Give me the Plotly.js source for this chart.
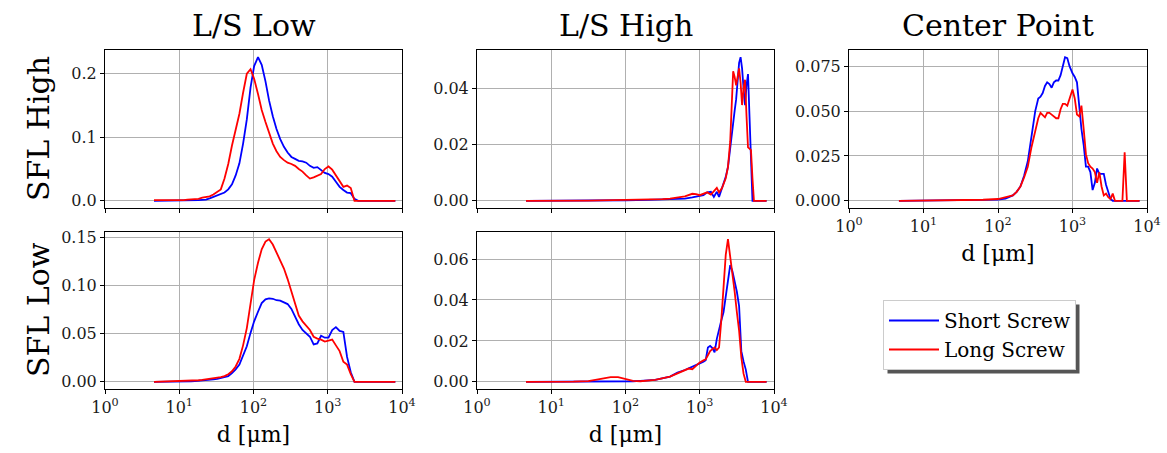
<!DOCTYPE html>
<html>
<head>
<meta charset="utf-8">
<script src="https://cdn.plot.ly/plotly-3.0.1.min.js"></script>
<style>html,body{margin:0;padding:0;background:#fff;}#chart{width:1167px;height:453px;}</style>
</head>
<body>
<div id="chart"></div>
<script>
// ---------- DATA (particle size d in µm, distribution density) ----------
const colTitles = ["L/S Low", "L/S High", "Center Point"];
const rowTitles = ["SFL High", "SFL Low"];
const seriesNames = ["Short Screw", "Long Screw"];
const xTickVals = [1, 10, 100, 1000, 10000];
const xTickText = ["10<sup>0</sup>", "10<sup>1</sup>", "10<sup>2</sup>", "10<sup>3</sup>", "10<sup>4</sup>"];

// shared size grid for the L/S Low column
const dLeft = [4.57, 5.13, 5.75, 6.46, 7.24, 8.13, 9.12, 10.2, 11.5, 12.9, 14.5, 16.2, 18.2, 20.4, 22.9, 25.7, 28.8, 32.4, 36.3, 40.7, 45.7, 51.3, 57.5, 64.6, 72.4, 81.3, 91.2, 102, 115, 129, 145, 162, 182, 204, 229, 257, 288, 324, 363, 407, 457, 513, 575, 646, 724, 813, 912, 1023, 1148, 1288, 1445, 1622, 1820, 2042, 2291, 2570, 2884, 3236, 3631, 4074, 4571, 5129, 5754, 6457, 7244, 8128];

// SFL High / L/S Low
const hiLowShort = [0,0,0,0,0,0,0,0,0,0, 0.0003,0.0005,0.001,0.0015,0.002,0.004,0.006,0.008,0.010,0.013, 0.018,0.026,0.040,0.059,0.090,0.128,0.178,0.212,0.226,0.214, 0.188,0.158,0.133,0.113,0.097,0.085,0.076,0.069,0.066,0.063, 0.062,0.060,0.055,0.052,0.053,0.049,0.044,0.042,0.038,0.030, 0.022,0.017,0.013,0.012,0.003, 0,0,0,0,0,0,0,0,0,0,0];
const hiLowLong = [0.001,0.0008,0.001,0.0012,0.001,0.0012,0.001,0.0012,0.001,0.002, 0.002,0.003,0.003,0.005,0.006,0.007,0.010,0.014,0.018,0.035, 0.058,0.087,0.110,0.137,0.170,0.200,0.207,0.192,0.168,0.143, 0.124,0.106,0.090,0.078,0.069,0.064,0.060,0.058,0.055,0.050, 0.046,0.040,0.035,0.037,0.039,0.042,0.050,0.054,0.049,0.040, 0.029,0.022,0.024,0.020,0, 0,0,0,0,0,0,0,0,0,0,0];

// SFL Low / L/S Low
const loLowShort = [0,0,0,0,0.0001,0.0001,0.0002,0.0003,0.0004,0.0005, 0.0006,0.0008,0.001,0.0012,0.0015,0.002,0.0025,0.003,0.0038,0.0048, 0.006,0.0092,0.013,0.018,0.027,0.037,0.051,0.063,0.073,0.082, 0.086,0.087,0.0865,0.085,0.0845,0.083,0.081,0.076,0.068,0.060, 0.054,0.050,0.047,0.039,0.040,0.048,0.046,0.046,0.054,0.057, 0.053,0.052,0.026,0.010,0, 0,0,0,0,0,0,0,0,0,0,0];
const loLowLong = [0,0.0001,0.0001,0.0002,0.0003,0.0004,0.0005,0.0006,0.0008,0.001, 0.0012,0.0014,0.0017,0.002,0.0025,0.003,0.0035,0.004,0.005,0.006, 0.008,0.011,0.016,0.024,0.038,0.056,0.081,0.106,0.124,0.138, 0.146,0.1486,0.143,0.135,0.126,0.118,0.107,0.094,0.080,0.069, 0.063,0.058,0.054,0.047,0.045,0.044,0.042,0.043,0.044,0.038, 0.032,0.021,0.018,0.008,0, 0,0,0,0,0,0,0,0,0,0,0];

// SFL High / L/S High
const dHiHigh = [4.57, 10, 31.6, 100, 200, 316, 398, 501, 631, 794, 891, 1000, 1122, 1259, 1413, 1549, 1698, 1820, 1995, 2239, 2399, 2570, 2692, 2818, 2951, 3090, 3236, 3388, 3548, 3715, 3890, 4074, 4266, 4467, 4677, 4898, 5129, 5370, 5623, 6310, 7079, 7943];
const hiHighShort = [0,0,0.0001,0.0002,0.0003,0.0004,0.0005,0.0006,0.0008,0.0012, 0.0014,0.0016,0.002,0.003,0.0032,0.0014,0.0032,0.0014,0.0044,0.0085, 0.012,0.019,0.025,0.029,0.032,0.036,0.044,0.049,0.051,0.047, 0.040,0.034,0.041,0.045,0.030,0.012,0,0,0,0,0,0];
const hiHighLong = [0,0,0.0001,0.0003,0.0004,0.0006,0.0008,0.0011,0.0016,0.0025, 0.0024,0.002,0.0026,0.003,0.0022,0.0035,0.0046,0.003,0.0045,0.008, 0.012,0.021,0.034,0.046,0.044,0.041,0.044,0.047,0.042,0.034, 0.040,0.043,0.030,0.019,0.0185,0.018,0.008,0,0,0,0,0];

// SFL High / Center Point
const dCenter = [4.68, 10, 31.6, 63.1, 100, 126, 158, 178, 200, 224, 251, 282, 316, 347, 372, 398, 427, 457, 490, 525, 562, 603, 646, 692, 741, 794, 851, 912, 1000, 1072, 1148, 1230, 1318, 1413, 1514, 1622, 1738, 1862, 1995, 2138, 2291, 2455, 2630, 2818, 3020, 3236, 3467, 3715, 4169, 4677, 5012, 5370, 6026, 6918, 7943];
const centerShort = [0,0.0001,0.0002,0.0004,0.0007,0.0012,0.003,0.005,0.008,0.014, 0.022,0.036,0.050,0.057,0.058,0.060,0.064,0.066,0.065,0.063, 0.066,0.067,0.067,0.070,0.075,0.080,0.0795,0.075,0.071,0.069, 0.066,0.052,0.040,0.031,0.019,0.019,0.016,0.006,0.010,0.018, 0.015,0.015,0.015,0.009,0.005,0.001,0,0,0,0, 0,0,0,0,0];
const centerLong = [0,0.0001,0.0003,0.0006,0.001,0.002,0.003,0.005,0.008,0.013, 0.019,0.030,0.039,0.046,0.049,0.048,0.0465,0.049,0.049,0.048, 0.047,0.046,0.046,0.051,0.054,0.054,0.053,0.057,0.062,0.057, 0.048,0.047,0.053,0.040,0.026,0.021,0.019,0.018,0.016,0.010, 0.016,0.008,0.003,0.004,0.002,0.001,0.004,0,0,0, 0.027,0,0,0,0];

// SFL Low / L/S High
const dLoHigh = [4.57, 10, 20.0, 31.6, 39.8, 50.1, 63.1, 79.4, 100, 126, 158, 251, 398, 501, 631, 708, 794, 891, 1000, 1122, 1202, 1288, 1380, 1479, 1585, 1698, 1820, 1950, 2089, 2239, 2399, 2570, 2754, 2951, 3162, 3388, 3631, 3890, 4169, 4467, 5012, 6310, 7943];
const loHighShort = [0,0,0,0.0001,0.0001,0.0001,0.0002,0.0002,0.0002,0.0003, 0.0005,0.001,0.0026,0.0045,0.0058,0.0065,0.0072,0.008,0.009,0.0098, 0.0106,0.0168,0.0176,0.0165,0.0144,0.021,0.026,0.030,0.034,0.041, 0.049,0.057,0.054,0.049,0.044,0.037,0.015,0.010,0.006,0,0,0,0];
const loHighLong = [0,0,0.0001,0.0004,0.001,0.0018,0.0023,0.0023,0.0015,0.0005, 0.0003,0.001,0.0026,0.0042,0.0058,0.0065,0.0062,0.008,0.0095,0.0105, 0.011,0.013,0.015,0.016,0.0168,0.0155,0.0168,0.030,0.048,0.062, 0.0697,0.062,0.052,0.044,0.034,0.025,0.012,0.004,0,0,0,0,0];

// ---------- STYLE / LAYOUT ----------
const FONT = "DejaVu Serif";
const W = 1167, H = 453;
const BLUE = "#0000ff", RED = "#ff0000";
const px = v => v / W, py = v => 1 - v / H;

const panels = [
  {ax: "", d: dLeft, s: hiLowShort, l: hiLowLong, xd: [105, 402], yd: [208, 50], labels: false, dtick: 0.1, fmt: ".1f", legend: true},
  {ax: "2", d: dHiHigh, s: hiHighShort, l: hiHighLong, xd: [477, 774], yd: [208, 50], labels: false, dtick: 0.02, fmt: ".2f"},
  {ax: "3", d: dCenter, s: centerShort, l: centerLong, xd: [849, 1147], yd: [208, 50], labels: true, dtick: 0.025, fmt: ".3f"},
  {ax: "4", d: dLeft, s: loLowShort, l: loLowLong, xd: [105, 402], yd: [389, 232], labels: true, dtick: 0.05, fmt: ".2f"},
  {ax: "5", d: dLoHigh, s: loHighShort, l: loHighLong, xd: [477, 774], yd: [389, 232], labels: true, dtick: 0.02, fmt: ".2f"}
];

const traces = [];
const layout = {
  width: W, height: H,
  margin: {l: 0, r: 0, t: 0, b: 0},
  paper_bgcolor: "#fff", plot_bgcolor: "#fff",
  font: {family: FONT, color: "#000", size: 16},
  showlegend: true,
  legend: {
    x: px(883), y: py(300), xanchor: "left", yanchor: "top",
    bgcolor: "#fff", bordercolor: "#cccccc", borderwidth: 1,
    font: {family: FONT, size: 20, color: "#000"},
    itemwidth: 50, tracegroupgap: 0
  },
  annotations: [],
  shapes: [{
    type: "rect", xref: "paper", yref: "paper",
    x0: px(887), x1: px(1081), y0: py(366), y1: py(305),
    fillcolor: "#555555", line: {width: 0}, layer: "above"
  }]
};

panels.forEach(p => {
  const xa = "x" + p.ax, ya = "y" + p.ax;
  traces.push({x: p.d, y: p.s, xaxis: xa, yaxis: ya, type: "scatter", mode: "lines",
    name: seriesNames[0], legendgroup: "s", showlegend: !!p.legend,
    line: {color: BLUE, width: 1.8}, hoverinfo: "skip"});
  traces.push({x: p.d, y: p.l, xaxis: xa, yaxis: ya, type: "scatter", mode: "lines",
    name: seriesNames[1], legendgroup: "l", showlegend: !!p.legend,
    line: {color: RED, width: 1.8}, hoverinfo: "skip"});
  const ymax = Math.max(...p.s, ...p.l);
  const common = {
    showline: true, mirror: true, linecolor: "#000", linewidth: 1,
    ticks: "outside", ticklen: 4, tickwidth: 1, tickcolor: "#000",
    showgrid: true, gridcolor: "#b0b0b0", gridwidth: 1, zeroline: false,
    tickfont: {family: FONT, size: 16, color: "#1a1a1a"}
  };
  layout["xaxis" + p.ax] = Object.assign({}, common, {
    domain: [px(p.xd[0]), px(p.xd[1])], anchor: ya,
    type: "log", range: [0, 4], tickmode: "array", tickvals: xTickVals, ticktext: xTickText,
    showticklabels: p.labels,
    title: p.labels ? {text: "d [μm]", font: {family: FONT, size: 22, color: "#000"}, standoff: 10} : {text: ""}
  });
  layout["yaxis" + p.ax] = Object.assign({}, common, {
    domain: [py(p.yd[0]), py(p.yd[1])], anchor: xa,
    range: [-0.05 * ymax, 1.05 * ymax], tick0: 0, dtick: p.dtick, tickformat: p.fmt
  });
});

const colCenters = [254, 626, 998];
colTitles.forEach((t, i) => layout.annotations.push({
  text: t, xref: "paper", yref: "paper", x: px(colCenters[i]), y: py(26),
  xanchor: "center", yanchor: "middle", showarrow: false,
  font: {family: FONT, size: 30, color: "#000"}
}));
const rowCenters = [129, 310];
rowTitles.forEach((t, i) => layout.annotations.push({
  text: t, xref: "paper", yref: "paper", x: px(38), y: py(rowCenters[i]),
  xanchor: "center", yanchor: "middle", showarrow: false, textangle: -90,
  font: {family: FONT, size: 30, color: "#000"}
}));

const gd = document.getElementById("chart");
Plotly.newPlot(gd, traces, layout, {staticPlot: true, displayModeBar: false}).then(() => {
  // place the drop shadow 4px down/right of the legend box as drawn
  const bg = gd.querySelector(".legend .bg");
  if (!bg) return;
  const r = bg.getBoundingClientRect(), c = gd.getBoundingClientRect();
  const x0 = r.left - c.left + 4, x1 = r.right - c.left + 4;
  const y0 = r.top - c.top + 4, y1 = r.bottom - c.top + 4;
  return Plotly.relayout(gd, {
    "shapes[0].x0": px(x0), "shapes[0].x1": px(x1),
    "shapes[0].y0": py(y1), "shapes[0].y1": py(y0)
  });
});
</script>
</body>
</html>
